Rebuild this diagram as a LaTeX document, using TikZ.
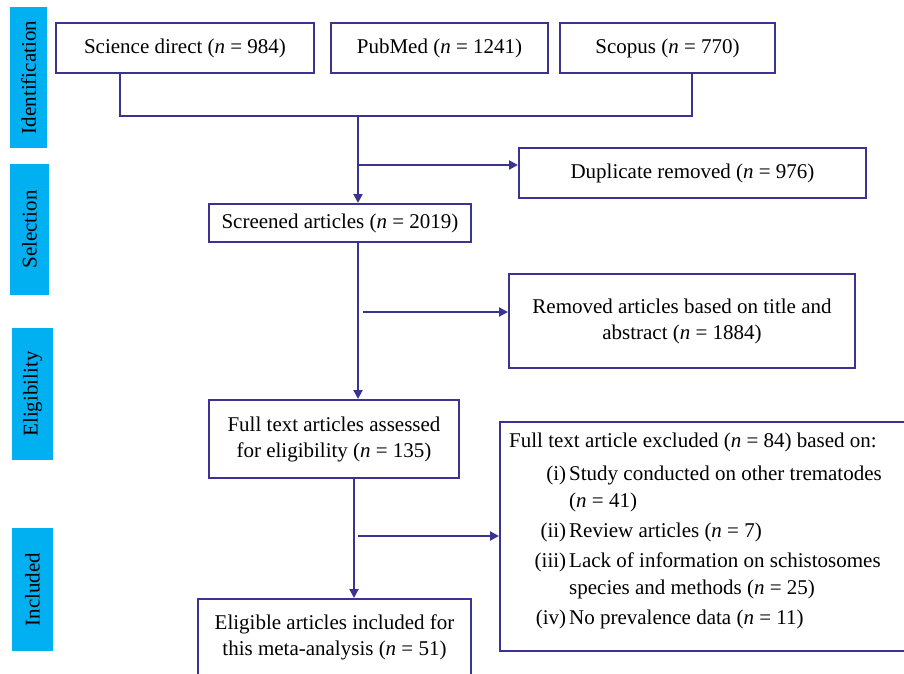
\documentclass[tikz,border=0pt]{standalone}
\usepackage{fontspec}
\setmainfont{Liberation Serif}
\usetikzlibrary{arrows.meta}
\definecolor{lineblue}{RGB}{59,50,148}
\definecolor{sidecyan}{RGB}{0,176,240}
\newcommand{\nn}{\textit{n}}
\tikzset{
  boxnode/.style={draw=lineblue, line width=2pt, fill=white, inner sep=0pt, align=center,
    font=\fontsize{21}{26}\selectfont},
  sidebox/.style={fill=sidecyan, inner sep=0pt, rotate=90, font=\fontsize{21}{24}\selectfont},
  conn/.style={draw=lineblue, line width=2pt},
  arr/.style={conn, -{Triangle[length=9pt,width=9pt]}}
}
\begin{document}
\begin{tikzpicture}[x=1pt,y=-1pt]
\useasboundingbox (0,0) rectangle (904,673);
\clip (0,0) rectangle (904,673);
% side labels
\node[sidebox, minimum width=141pt, minimum height=37pt] (lid) at (28.5,77.5) {Identification};
\node[sidebox, minimum width=131pt, minimum height=39pt] (lsel) at (29.5,229.5) {Selection};
\node[sidebox, minimum width=132pt, minimum height=41pt] (lel) at (32.5,394) {Eligibility};
\node[sidebox, minimum width=123pt, minimum height=41pt] (linc) at (32.5,589.5) {Included};
% boxes
\node[boxnode, minimum width=258pt, minimum height=50pt] (sd) at (185,48) {Science direct (\nn\ = 984)};
\node[boxnode, minimum width=217pt, minimum height=50pt] (pm) at (439.5,48) {PubMed (\nn\ = 1241)};
\node[boxnode, minimum width=215pt, minimum height=50pt] (sc) at (667.5,48) {Scopus (\nn\ = 770)};
\node[boxnode, minimum width=347pt, minimum height=50pt] (dup) at (692.5,173) {Duplicate removed (\nn\ = 976)};
\node[boxnode, minimum width=262pt, minimum height=38pt] (scr) at (340,223) {Screened articles (\nn\ = 2019)};
\node[boxnode, minimum width=346pt, minimum height=94pt] (rem) at (682,321) {Removed articles based on title and\\abstract (\nn\ = 1884)};
\node[boxnode, minimum width=250pt, minimum height=78pt] (full) at (334,439) {Full text articles assessed\\for eligibility (\nn\ = 135)};
\node[boxnode, minimum width=273pt, minimum height=84pt, anchor=north] (elig) at (334.5,598) {};
\node[font=\fontsize{21}{26}\selectfont, align=center, anchor=base, inner sep=0pt] (eligt) at (334.5,655) {Eligible articles included for\\this meta-analysis (\nn\ = 51)};
\node[boxnode, minimum width=421pt, minimum height=229pt, anchor=north west] (excl) at (499,421) {};
\node[anchor=base west, inner sep=0pt, align=left, font=\fontsize{21}{27}\selectfont] (exclt) at (509,447) {%
\begin{tabular}[t]{@{}r@{\hspace{3pt}}l@{}}
\multicolumn{2}{@{}l@{}}{Full text article excluded (\nn\ = 84) based on:}\\[6pt]
\makebox[57pt][r]{(i)} & Study conducted on other trematodes\\
 & (\nn\ = 41)\\[3pt]
(ii) & Review articles (\nn\ = 7)\\[3pt]
(iii) & Lack of information on schistosomes\\
 & species and methods (\nn\ = 25)\\[3pt]
(iv) & No prevalence data (\nn\ = 11)
\end{tabular}};
% connectors
\coordinate (j) at (358,116);
\coordinate (jl) at (120,116);
\coordinate (jr) at (692,116);
\draw[conn] (sd.south -| jl) -- (jl) -- (jr) -- (sc.south -| jr);
\draw[arr] (j) -- (j |- scr.north);
\coordinate (b1) at (358,165);
\draw[arr] (b1) -- (b1 -| dup.west);
\coordinate (s2) at (358,242);
\draw[arr] (s2 |- scr.south) -- (s2 |- full.north);
\coordinate (b2) at (363,312);
\draw[arr] (b2) -- (b2 -| rem.west);
\coordinate (s3) at (354,478);
\draw[arr] (s3 |- full.south) -- (s3 |- elig.north);
\coordinate (b3) at (358,536);
\draw[arr] (b3) -- (b3 -| excl.west);
\end{tikzpicture}
\end{document}
